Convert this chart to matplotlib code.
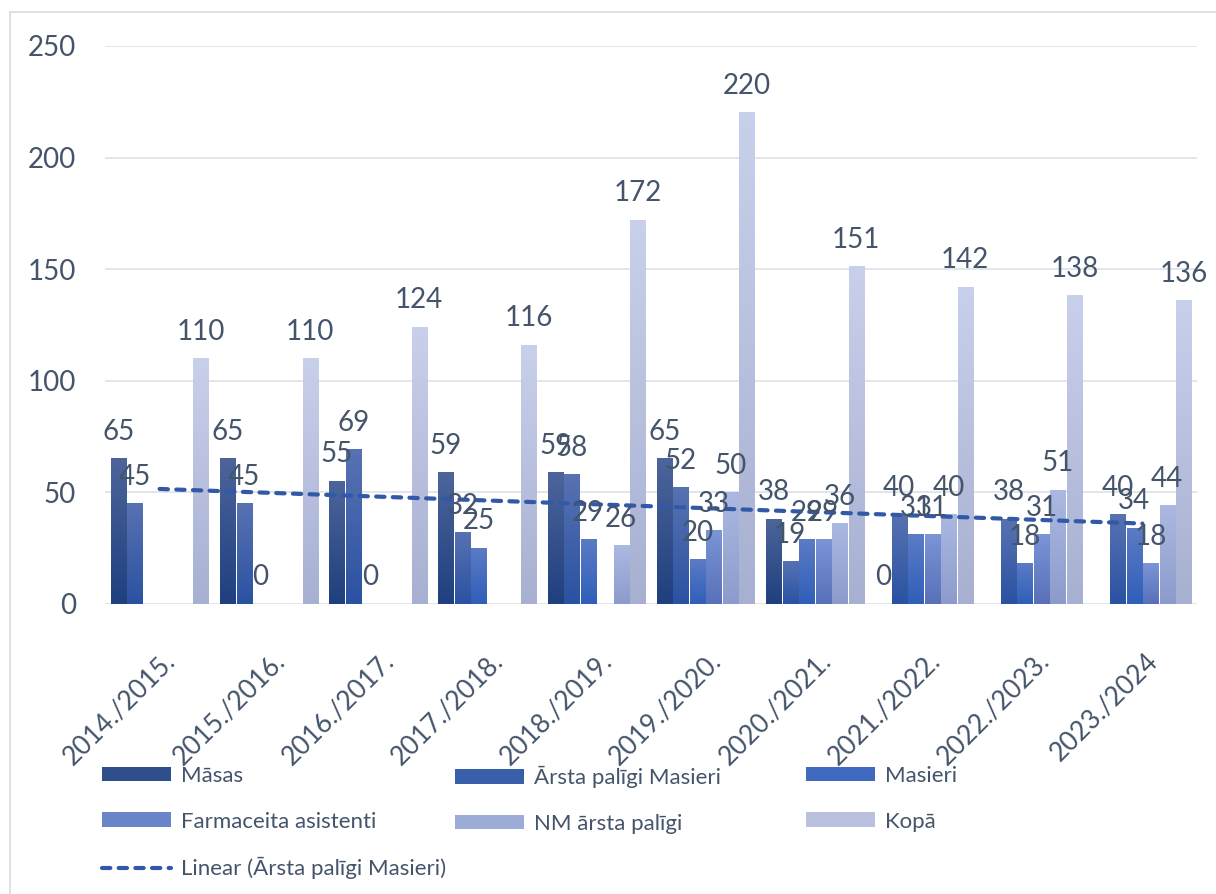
import numpy as np
import matplotlib.pyplot as plt
from matplotlib.colors import LinearSegmentedColormap
from matplotlib.patches import Patch, Rectangle
from matplotlib.lines import Line2D
from matplotlib.transforms import ScaledTranslation

plt.rcParams['font.family'] = ['Lato', 'DejaVu Sans']

years = ["2014./2015.", "2015./2016.", "2016./2017.", "2017./2018.", "2018./2019.",
         "2019./2020.", "2020./2021.", "2021./2022.", "2022./2023.", "2023./2024"]
nan = np.nan
masas = [65, 65, 55, 59, 59, 65, 38, 0, nan, nan]
arsta_masieri = [45, 45, 69, 32, 58, 52, 19, 40, 38, 40]
masieri = [nan, 0, 0, 25, 29, 20, 29, 31, 18, 34]
farmaceita = [nan, nan, nan, nan, nan, 33, 29, 31, 31, 18]
nm_arsta = [nan, nan, nan, nan, 26, 50, 36, 40, 51, 44]
kopa = [110, 110, 124, 116, 172, 220, 151, 142, 138, 136]

names = ["Māsas", "Ārsta palīgi Masieri", "Masieri", "Farmaceita asistenti",
         "NM ārsta palīgi", "Kopā"]
series = [masas, arsta_masieri, masieri, farmaceita, nm_arsta, kopa]
# (bottom, top) colours of the gradient fill
grads = [("#1f3f7e", "#4d659b"),
         ("#2a52a2", "#5872b2"),
         ("#2f5fb9", "#5c7bc5"),
         ("#5870b8", "#7b95d7"),
         ("#8c9bcb", "#abb9e2"),
         ("#a8b0d1", "#c9d0eb")]
mids = ["#2f4f8c", "#3a5faa", "#4069c0", "#6a84c9", "#9dabd7", "#bac1df"]
TEXT = "#44546a"
GRID = "#dde1e8"
TREND = "#3259a8"

W, H = 1216, 894
fig = plt.figure(figsize=(W / 100, H / 100), dpi=100)
ax = fig.add_axes([105 / W, (H - 604) / H, (1197 - 105) / W, (604 - 46) / H])

x = np.arange(len(years))
pitch = 0.151
width = 0.1375
for k, (vals, (c0, c1), mid) in enumerate(zip(series, grads, mids)):
    vals = np.array(vals, dtype=float)
    pos = x + (k - 2.5) * pitch
    bars = ax.bar(pos, np.nan_to_num(vals), width=width, color=mid, zorder=2)
    cmap = LinearSegmentedColormap.from_list(f"g{k}", [c0, c1])
    grad = np.linspace(0, 1, 256).reshape(-1, 1)
    for b, v in zip(bars, vals):
        if np.isnan(v):
            b.set_visible(False)
            continue
        if v > 0:
            ax.imshow(grad, extent=(b.get_x(), b.get_x() + b.get_width(), 0, v),
                      aspect='auto', origin='lower', cmap=cmap, zorder=2.1)
        ax.annotate(f"{v:g}", (b.get_x() + b.get_width() / 2, v), xytext=(0, 13.5),
                    textcoords='offset points', ha='center', va='baseline',
                    fontsize=20, color=TEXT, zorder=4)

# linear trend of Ārsta palīgi Masieri
coef = np.polyfit(x, arsta_masieri, 1)
ax.plot(x, np.polyval(coef, x), color=TREND, lw=3, dashes=(2.0, 2.0),
        dash_capstyle='round', zorder=3)

ax.set_xlim(-0.5, len(years) - 0.5)
ax.set_ylim(0, 250)
ax.set_yticks(range(0, 251, 50))
ax.yaxis.grid(True, color=GRID, lw=1.2)
ax.set_axisbelow(True)
for s in ax.spines.values():
    s.set_visible(False)
ax.tick_params(axis='y', length=0, pad=21, labelsize=20, labelcolor=TEXT)
ax.set_xticks(x)
ax.set_xticklabels(years, rotation=45, ha='right', va='center', rotation_mode='anchor')
ax.tick_params(axis='x', length=0, pad=38, labelsize=19, labelcolor=TEXT)
shift = ScaledTranslation(0.12, 0, fig.dpi_scale_trans)
for lbl in ax.get_xticklabels():
    lbl.set_transform(lbl.get_transform() + shift)

# legend, three columns like the Excel layout
patches = [Patch(facecolor=m, edgecolor='none', label=n) for m, n in zip(mids, names)]
trend_h = Line2D([], [], color=TREND, lw=3, dashes=(2.0, 2.0), dash_capstyle='round',
                 label="Linear (Ārsta palīgi Masieri)")
cols = [([patches[0], patches[3], trend_h], 102),
        ([patches[1], patches[4]], 455),
        ([patches[2], patches[5]], 806)]
for handles, xpix in cols:
    fig.legend(handles=handles, loc='upper left', bbox_to_anchor=(xpix / W, (H - 766) / H),
               frameon=False, borderpad=0, borderaxespad=0, fontsize=16,
               labelcolor=TEXT, handlelength=3.1, handleheight=0.63,
               handletextpad=0.45, labelspacing=1.15)

# outer chart border (only left and top visible)
fig.patches.append(Rectangle((10 / W, -0.5), 1.5, 0.5 + (H - 12) / H,
                             transform=fig.transFigure, fill=False,
                             edgecolor="#d9dce3", lw=1.2))

fig.savefig("out.png", dpi=100)
